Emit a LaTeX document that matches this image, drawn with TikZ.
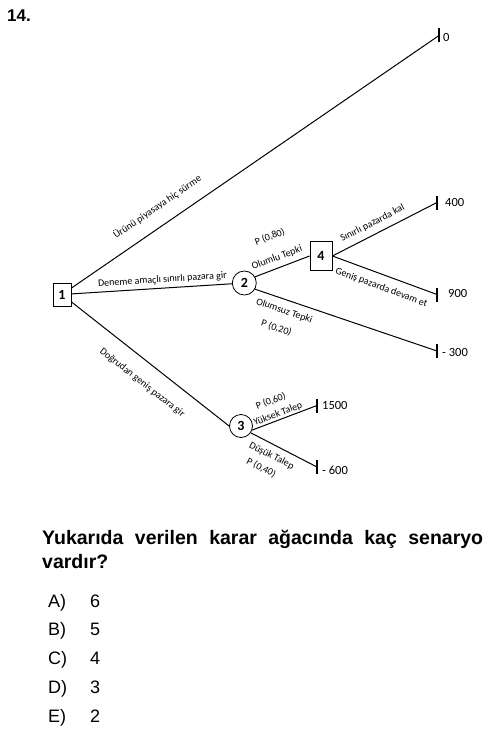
\documentclass[tikz,border=0pt]{standalone}
\usepackage{fontspec}
\setmainfont{Liberation Sans}
\newfontfamily\lblfont{Carlito}
\begin{document}
\begin{tikzpicture}[x=1pt,y=-1pt,
  conn/.style={line width=1pt,black},
  barline/.style={line width=1.2pt,black},
  lbl/.style={font=\lblfont\fontsize{10}{12}\selectfont,inner sep=0pt,sloped},
  val/.style={font=\lblfont\fontsize{12.5}{14}\selectfont,inner sep=0pt,anchor=west},
  decbox/.style={draw,line width=0.8pt,rectangle,inner sep=0pt,font=\lblfont\bfseries\fontsize{14}{16}\selectfont},
  chance/.style={draw,line width=0.8pt,circle,inner sep=0pt,minimum size=24pt,font=\lblfont\bfseries\fontsize{14}{16}\selectfont},
  opt/.style={font=\fontsize{18}{20}\selectfont,inner sep=0pt,anchor=base west}
]
\useasboundingbox (0,0) rectangle (500,730);
% title
\node[font=\bfseries\fontsize{17}{19}\selectfont,inner sep=0pt,anchor=base west] (title) at (7,22) {14.};
% decision and chance nodes
\node[decbox,minimum width=18pt,minimum height=23pt] (n1) at (62,294.5) {1};
\node[chance] (n2) at (244.3,283) {2};
\node[decbox,minimum width=22pt,minimum height=29pt] (n4) at (321,256) {4};
\node[chance,minimum size=23pt] (n3) at (241,426) {3};
% terminal points
\coordinate (t0) at (439,35.5);
\coordinate (t400) at (437,202.5);
\coordinate (t900) at (437,294.5);
\coordinate (t300) at (437,351);
\coordinate (t1500) at (317,405.5);
\coordinate (t600) at (317,467);
\foreach \t in {t0,t400,t900,t300,t1500,t600}
  \draw[barline] ([yshift=-7pt]\t) -- ([yshift=7pt]\t);
% connectors
\draw[conn] (n1) -- node[lbl,pos=0.262,above=13pt] (l1) {Ürünü piyasaya hiç sürme} (t0);
\draw[conn] (n1) -- node[lbl,pos=0.57,above=3.5pt] (l2) {Deneme amaçlı sınırlı pazara gir} (n2);
\draw[conn] (n1) -- node[lbl,pos=0.527,below=15pt] (l3) {Doğrudan geniş pazara gir} (n3.west);
\draw[conn] (n2.30) -- node[lbl,pos=0.467,above=5pt] (l4) {Olumlu Tepki}
                       node[lbl,pos=0.48,above=27pt] (l4p) {P (0,80)} (n4.west);
\draw[conn] (n4.east) -- node[lbl,pos=0.43,above=6pt] (l5) {Sınırlı pazarda kal} (t400);
\draw[conn] (n4.east) -- node[lbl,pos=0.51,below=8pt] (l6) {Geniş pazarda devam et} (t900);
\draw[conn] (n2.-30) -- node[lbl,pos=0.18,below=6.5pt] (l7) {Olumsuz Tepki}
                        node[lbl,pos=0.17,below=25pt] (l7p) {P (0,20)} (t300);
\draw[conn] (n3.-20) -- node[lbl,pos=0.43,above=1pt] (l8) {Yüksek Talep}
                        node[lbl,pos=0.40,above=15.5pt] (l8p) {P (0,60)} (t1500);
\draw[conn] (n3.-35) -- node[lbl,pos=0.39,below=6.3pt] (l9) {Düşük Talep}
                        node[lbl,pos=0.34,below=21.5pt] (l9p) {P (0,40)} (t600);
% payoffs
\node[val] (v0) at (443,37) {0};
\node[val] (v400) at (445,202.5) {400};
\node[val] (v900) at (448,293) {900};
\node[val] (v300) at (442,352) {- 300};
\node[val] (v1500) at (322,405) {1500};
\node[val] (v600) at (322,470) {- 600};
% question
\node[inner sep=0pt,anchor=base west] (q) at (42,544)
  {\parbox[t]{441pt}{\hyphenpenalty=10000\fontsize{19.5}{24}\selectfont\bfseries Yukarıda verilen karar ağacında kaç senaryo vardır?}};
\node[opt] (oa) at (48,607) {A)};  \node[opt] (oa2) at (90,607) {6};
\node[opt] (ob) at (48,635.75) {B)}; \node[opt] (ob2) at (90,635.75) {5};
\node[opt] (oc) at (48,664.5) {C)}; \node[opt] (oc2) at (90,664.5) {4};
\node[opt] (od) at (48,693.25) {D)}; \node[opt] (od2) at (90,693.25) {3};
\node[opt] (oe) at (48,722) {E)};  \node[opt] (oe2) at (90,722) {2};
\end{tikzpicture}
\end{document}
